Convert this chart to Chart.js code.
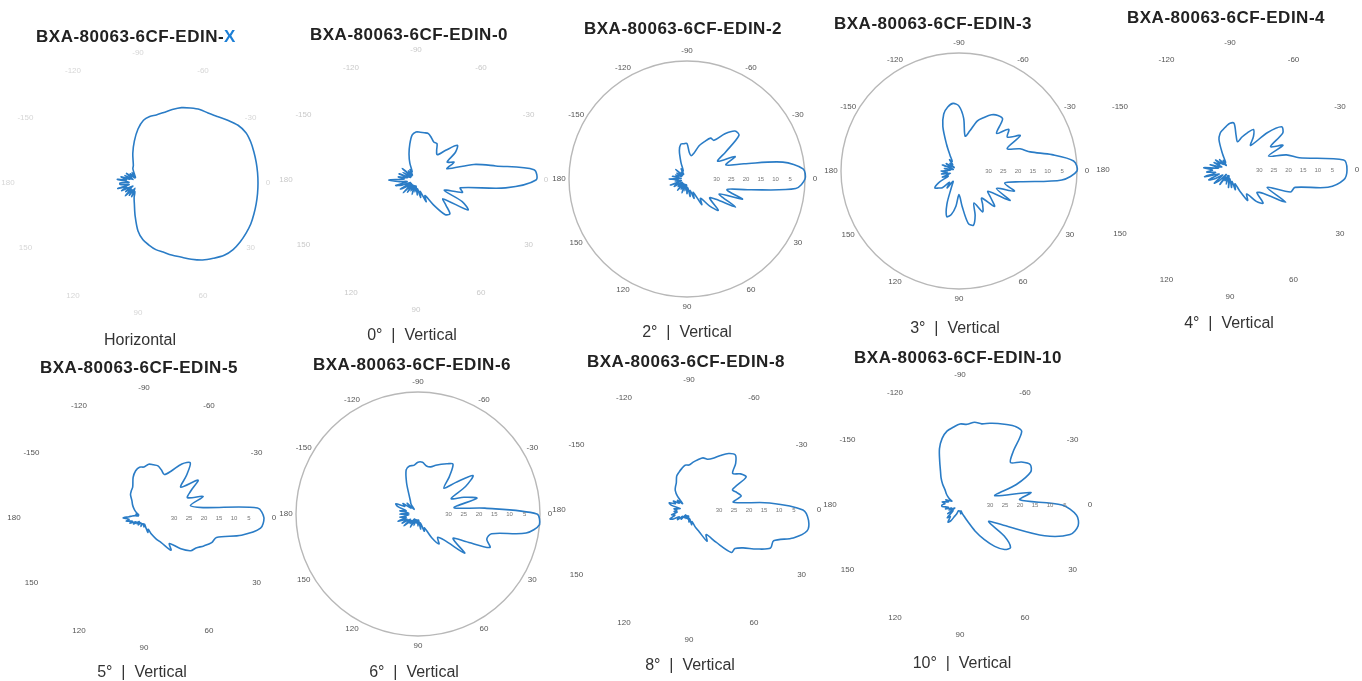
<!DOCTYPE html>
<html>
<head>
<meta charset="utf-8">
<script src="https://cdn.jsdelivr.net/npm/chart.js@4.4.0/dist/chart.umd.min.js"></script>
<style>
  html, body { margin: 0; padding: 0; background: #fff; }
  body { width: 1362px; height: 681px; position: relative; overflow: hidden; font-family: "Liberation Sans", Arial, sans-serif; }
  .plot { position: absolute; width: 300px; height: 300px; }
  .title { position: absolute; transform: translate(-50%, -50%); font-weight: bold; font-size: 17px; letter-spacing: 0.5px; color: #222; white-space: nowrap; z-index: 2; }
  .caption { position: absolute; transform: translate(-50%, -50%); font-size: 16px; color: #333; white-space: pre; z-index: 2; }
</style>
</head>
<body>
<script>
// angle of each sample, degrees (0 = boresight, positive = below horizon)
const angles = [0, 5, 10, 15, 20, 25, 30, 35, 40, 45, 50, 55, 60, 65, 70, 75, 80, 85,
  90, 95, 100, 105, 110, 115, 120, 125, 130, 135, 140, 145, 150, 155, 160, 165, 170, 175,
  180, -175, -170, -165, -160, -155, -150, -145, -140, -135, -130, -125, -120, -115, -110,
  -105, -100, -95, -90, -85, -80, -75, -70, -65, -60, -55, -50, -45, -40, -35, -30, -25,
  -20, -15, -10, -5];

// relative level in dB (0 = outer ring, -40 = centre)
const horizontalX = [0, 0, 0, 0, 0, -0.3, -0.7, -1.3, -2.5, -4.5, -6.5, -9,
  -11.5, -13.5, -15.5, -17, -19, -21, -24, -29, -33, -35, -37, -35,
  -38, -35, -37, -34, -37, -35, -38, -34, -36, -33, -37, -34,
  -34, -37, -33, -36, -34, -37, -35, -38, -35, -37, -36, -38,
  -36, -38, -35, -34, -30, -26, -22, -19, -17.5, -16.5, -15, -13,
  -11, -9.5, -8, -7, -5.5, -3.5, -1.5, -0.3, 0, 0, 0, 0];

const vertical0 = [0, -10, -25, -24, -30, -23, -20, -29, -27, -24, -25, -30,
  -34, -32, -36, -34, -37, -35, -38, -36, -38, -35, -38, -36,
  -38, -35, -38, -34, -38, -36, -34, -38, -35, -33, -37, -34,
  -31, -36, -34, -37, -34, -38, -35, -38, -34, -38, -36, -38,
  -36, -37, -34, -31, -28, -25, -24, -24, -24, -24, -25, -26,
  -26, -28, -29, -26, -22, -24, -28, -26, -29, -20, -13, -0.5];

const vertical2 = [0, -3, -19, -26, -20, -28, -21, -28, -30, -25, -28, -32,
  -30, -35, -33, -36, -34, -37, -35, -38, -36, -38, -35, -38,
  -36, -38, -35, -38, -36, -38, -35, -37, -34, -38, -36, -37,
  -34, -38, -35, -37, -36, -38, -36, -38, -35, -38, -37, -38,
  -36, -37, -34, -30, -28, -28, -28, -31, -32, -31, -28, -26,
  -24, -24, -20, -17, -17, -24, -28, -22, -26, -20, -7, -0.5];

const vertical3 = [0, -5, -19, -24, -20, -26, -20, -28, -26, -23, -28, -26,
  -24, -28, -24, -21, -22, -28, -32, -28, -25, -24, -28, -34,
  -36, -33, -35, -32, -31, -30, -32, -36, -34, -37, -34, -36,
  -34, -37, -35, -38, -34, -37, -35, -38, -36, -37, -35, -36,
  -34, -30, -24, -20, -18, -17, -18, -22, -28, -26, -22, -20,
  -18, -17, -17, -22, -18, -20, -16, -22, -18, -15, -8, -1];

const vertical4 = [0, -1, -6, -17, -18, -26, -18, -26, -28, -24, -26, -30,
  -28, -32, -35, -33, -36, -34, -37, -34, -38, -35, -38, -36,
  -37, -34, -38, -35, -33, -37, -34, -32, -36, -31, -35, -32,
  -34, -31, -36, -33, -37, -34, -36, -34, -37, -35, -38, -36,
  -37, -34, -29, -27, -26, -25, -24, -24, -28, -30, -28, -26,
  -24, -26, -29, -22, -17, -18, -24, -20, -26, -20, -16, -1];

const vertical5 = [0, -1, -7, -15, -16, -18, -20, -21, -24, -28, -26, -30,
  -32, -34, -36, -35, -37, -38, -37, -38, -38, -38, -37, -38,
  -38, -38, -37, -38, -37, -38, -36, -37, -35, -36, -34, -35,
  -33, -35, -36, -37, -38, -37, -38, -37, -36, -35, -34, -33,
  -31, -30, -29, -26, -24, -23, -23, -22, -22, -22, -23, -24,
  -22, -18, -16, -20, -24, -18, -22, -24, -19, -24, -20, -2];

const vertical6 = [-1, 0, -4, -15, -16, -14, -22, -26, -20, -28, -30, -28,
  -31, -35, -34, -37, -35, -38, -36, -38, -37, -38, -36, -38,
  -35, -38, -36, -37, -34, -37, -34, -36, -33, -36, -34, -37,
  -34, -37, -34, -36, -33, -32, -35, -34, -37, -35, -38, -36,
  -35, -33, -29, -25, -24, -24, -23, -23, -24, -24, -23, -22,
  -21, -20, -24, -28, -24, -18, -22, -28, -24, -20, -28, -18];

const vertical8 = [-2, 0, 0, -4, -10, -10, -14, -18, -20, -20, -26, -30,
  -28, -32, -34, -36, -35, -37, -36, -38, -37, -38, -37, -38,
  -37, -38, -36, -37, -35, -36, -34, -33, -35, -34, -36, -35,
  -36, -35, -37, -34, -33, -35, -34, -36, -35, -37, -34, -32,
  -31, -30, -28, -27, -26, -25, -25, -24, -23, -22, -22, -21,
  -19, -17, -16, -18, -21, -19, -18, -24, -23, -22, -25, -13];

const vertical10 = [-6, -1, 0, -2, -10, -24, -29, -22, -18, -19, -22, -26,
  -30, -34, -36, -37, -38, -37, -38, -38, -38, -38, -37, -36,
  -34, -33, -35, -34, -37, -35, -38, -36, -37, -35, -36, -34,
  -34, -35, -34, -36, -35, -37, -36, -35, -34, -33, -31, -29,
  -27, -24, -20, -17, -15, -14, -13, -13, -12, -12, -11, -10,
  -9, -8, -8, -15, -18, -15, -13, -14, -20, -28, -16, -20];

// radial scale labels written along the 0 degree ray
const radialTicks = [-30, -25, -20, -15, -10, -5];

const titles = ["BXA-80063-6CF-EDIN-", "BXA-80063-6CF-EDIN-0", "BXA-80063-6CF-EDIN-2",
  "BXA-80063-6CF-EDIN-3", "BXA-80063-6CF-EDIN-4", "BXA-80063-6CF-EDIN-5",
  "BXA-80063-6CF-EDIN-6", "BXA-80063-6CF-EDIN-8", "BXA-80063-6CF-EDIN-10"];
const captions = ["Horizontal", "0°  |  Vertical", "2°  |  Vertical", "3°  |  Vertical",
  "4°  |  Vertical", "5°  |  Vertical", "6°  |  Vertical", "8°  |  Vertical", "10°  |  Vertical"];
const patterns = [horizontalX, vertical0, vertical2, vertical3, vertical4,
  vertical5, vertical6, vertical8, vertical10];

// layout: plot centre, radius, title/caption anchors, styling
const panels = [
  { cx: 138, cy: 183, r: 120, tx: 136, ty: 37, capx: 140, capy: 340, ring: false, lbl: "#d6d6d6", ticks: false },
  { cx: 416, cy: 180, r: 120, tx: 409, ty: 35, capx: 412, capy: 335, ring: false, lbl: "#c9c9c9", ticks: false },
  { cx: 687, cy: 179, r: 118, tx: 683, ty: 29, capx: 687, capy: 332, ring: true, lbl: "#555", ticks: true },
  { cx: 959, cy: 171, r: 118, tx: 933, ty: 24, capx: 955, capy: 328, ring: true, lbl: "#555", ticks: true },
  { cx: 1230, cy: 170, r: 117, tx: 1226, ty: 18, capx: 1229, capy: 323, ring: false, lbl: "#555", ticks: true },
  { cx: 144, cy: 518, r: 120, tx: 139, ty: 368, capx: 142, capy: 672, ring: false, lbl: "#555", ticks: true },
  { cx: 418, cy: 514, r: 122, tx: 412, ty: 365, capx: 414, capy: 672, ring: true, lbl: "#555", ticks: true },
  { cx: 689, cy: 510, r: 120, tx: 686, ty: 362, capx: 690, capy: 665, ring: false, lbl: "#555", ticks: true },
  { cx: 960, cy: 505, r: 120, tx: 958, ty: 358, capx: 962, capy: 663, ring: false, lbl: "#555", ticks: true }
];

const lineBlue = "#2a7cc6";

const polarText = {
  id: "polarText",
  afterDraw(chart, args, opts) {
    const s = chart.scales.r;
    const ctx = chart.ctx;
    ctx.save();
    ctx.textAlign = "center";
    ctx.textBaseline = "middle";
    ctx.font = '8px "Liberation Sans", Arial, sans-serif';
    ctx.fillStyle = opts.labelColor;
    chart.data.labels.forEach((a, i) => {
      if (a % 30 !== 0) return;
      const p = s.getPointPosition(i, s.drawingArea + 10);
      ctx.fillText(String(a), p.x, p.y);
    });
    if (opts.showTicks) {
      ctx.font = '6px "Liberation Sans", Arial, sans-serif';
      ctx.fillStyle = "#777";
      radialTicks.forEach(v => {
        const p = s.getPointPosition(0, s.getDistanceFromCenterForValue(v));
        ctx.fillText(String(-v), p.x, p.y);
      });
    }
    ctx.restore();
  }
};

const addText = (cls, x, y, html) => {
  const el = document.createElement("div");
  el.className = cls;
  el.style.left = x + "px";
  el.style.top = y + "px";
  el.innerHTML = html;
  document.body.appendChild(el);
};

panels.forEach((p, k) => {
  const canvas = document.createElement("canvas");
  canvas.className = "plot";
  canvas.width = 300;
  canvas.height = 300;
  canvas.style.left = (p.cx - 150) + "px";
  canvas.style.top = (p.cy - 150) + "px";
  document.body.appendChild(canvas);

  new Chart(canvas, {
    type: "radar",
    data: {
      labels: angles,
      datasets: [{
        data: patterns[k],
        borderColor: lineBlue,
        borderWidth: 1.6,
        pointRadius: 0,
        fill: false,
        tension: 0.3
      }]
    },
    options: {
      responsive: false,
      animation: false,
      layout: { padding: 150 - p.r },
      plugins: {
        legend: { display: false },
        tooltip: { enabled: false },
        polarText: { labelColor: p.lbl, showTicks: p.ticks }
      },
      scales: {
        r: {
          min: -40,
          max: 0,
          startAngle: 90,
          ticks: { display: false, stepSize: 10 },
          pointLabels: { display: false },
          angleLines: { display: false },
          grid: {
            circular: true,
            lineWidth: 1.4,
            color: c => (p.ring && c.tick && c.tick.value === 0) ? "#b8b8b8" : "rgba(0,0,0,0)"
          }
        }
      }
    },
    plugins: [polarText]
  });

  const t = k === 0 ? titles[k] + '<span style="color:#1c7fd6">X</span>' : titles[k];
  addText("title", p.tx, p.ty, t);
  addText("caption", p.capx, p.capy, captions[k]);
});
</script>
</body>
</html>
